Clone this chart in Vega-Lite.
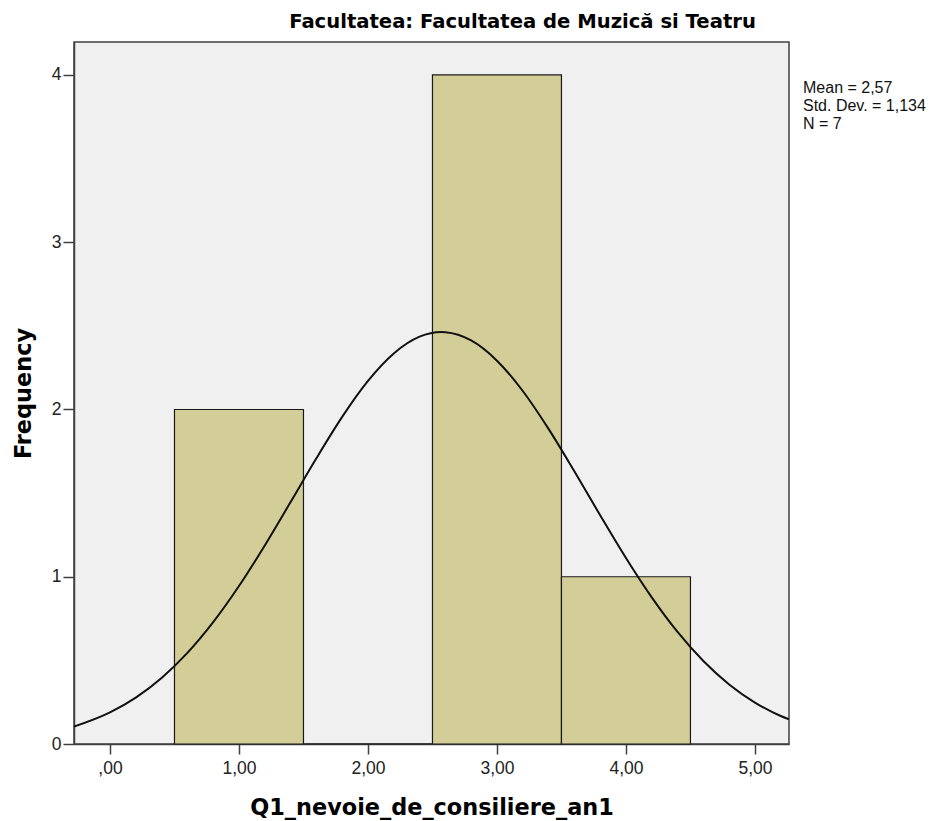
{
  "$schema": "https://vega.github.io/schema/vega-lite/v6.json",
  "autosize": {"type": "none"},
  "width": 715,
  "height": 702,
  "padding": {"left": 74, "top": 42, "right": 157, "bottom": 77},
  "background": "white",
  "config": {
    "font": "Liberation Sans",
    "view": {"fill": "#f0f0f0", "stroke": "#404040", "strokeWidth": 1.5}
  },
  "title": {
    "text": "Facultatea: Facultatea de Muzică si Teatru",
    "frame": "group",
    "anchor": "middle",
    "dx": 91,
    "offset": 9,
    "fontSize": 19.6,
    "fontWeight": "bold",
    "color": "black",
    "font": "DejaVu Sans"
  },
  "layer": [
    {
      "data": {"values": [
        {"bin_start": 0.5, "bin_end": 1.5, "count": 2},
        {"bin_start": 1.5, "bin_end": 2.5, "count": 0},
        {"bin_start": 2.5, "bin_end": 3.5, "count": 4},
        {"bin_start": 3.5, "bin_end": 4.5, "count": 1}
      ]},
      "mark": {"type": "rect", "fill": "#d3ce97", "stroke": "#1a1a1a", "strokeWidth": 1.2},
      "encoding": {
        "x": {
          "field": "bin_start", "type": "quantitative",
          "scale": {"domain": [-0.279, 5.264], "nice": false, "zero": false},
          "axis": {
            "title": "Q1_nevoie_de_consiliere_an1",
            "titleFontSize": 22.4, "titleFontWeight": "bold", "titleColor": "black",
            "titlePadding": 20, "titleFont": "DejaVu Sans",
            "values": [0, 1, 2, 3, 4, 5],
            "labelExpr": "datum.value == 0 ? ',00' : replace(format(datum.value, '.2f'), '.', ',')",
            "labelFontSize": 17.5, "labelColor": "#222", "labelPadding": 5,
            "tickSize": 10, "tickColor": "#404040", "tickWidth": 1.5,
            "domainColor": "#404040", "domainWidth": 1.5, "grid": false
          }
        },
        "x2": {"field": "bin_end"},
        "y": {
          "field": "count", "type": "quantitative",
          "scale": {"domain": [0, 4.197], "nice": false},
          "axis": {
            "title": "Frequency",
            "titleFontSize": 22.4, "titleFontWeight": "bold", "titleColor": "black",
            "titlePadding": 16, "titleFont": "DejaVu Sans",
            "values": [0, 1, 2, 3, 4],
            "format": "d",
            "labelFontSize": 17.5, "labelColor": "#222", "labelPadding": 2,
            "tickSize": 11, "tickColor": "#404040", "tickWidth": 1.5,
            "domainColor": "#404040", "domainWidth": 1.5, "grid": false
          }
        },
        "y2": {"datum": 0}
      }
    },
    {
      "data": {"values": [
        {"x": -0.279, "f": 0.1040},
        {"x": 0.0, "f": 0.1888},
        {"x": 0.2, "f": 0.2773},
        {"x": 0.4, "f": 0.3946},
        {"x": 0.6, "f": 0.5446},
        {"x": 0.8, "f": 0.7284},
        {"x": 1.0, "f": 0.9444},
        {"x": 1.2, "f": 1.1870},
        {"x": 1.4, "f": 1.4463},
        {"x": 1.6, "f": 1.7082},
        {"x": 1.8, "f": 1.9556},
        {"x": 2.0, "f": 2.1704},
        {"x": 2.2, "f": 2.3349},
        {"x": 2.4, "f": 2.4351},
        {"x": 2.57, "f": 2.4626},
        {"x": 2.6, "f": 2.4617},
        {"x": 2.8, "f": 2.4125},
        {"x": 3.0, "f": 2.2918},
        {"x": 3.2, "f": 2.1105},
        {"x": 3.4, "f": 1.8839},
        {"x": 3.6, "f": 1.6302},
        {"x": 3.8, "f": 1.3674},
        {"x": 4.0, "f": 1.1119},
        {"x": 4.2, "f": 0.8766},
        {"x": 4.4, "f": 0.6698},
        {"x": 4.6, "f": 0.4961},
        {"x": 4.8, "f": 0.3561},
        {"x": 5.0, "f": 0.2479},
        {"x": 5.2, "f": 0.1672},
        {"x": 5.264, "f": 0.1475}
      ]},
      "mark": {"type": "line", "color": "#111", "strokeWidth": 2, "interpolate": "monotone", "clip": true},
      "encoding": {
        "x": {"field": "x", "type": "quantitative"},
        "y": {"field": "f", "type": "quantitative"}
      }
    },
    {
      "data": {"values": [
        {"label": "Mean = 2,57\nStd. Dev. = 1,134\nN = 7", "pos": 3.892}
      ]},
      "mark": {"type": "text", "align": "left", "baseline": "alphabetic", "lineBreak": "\n", "lineHeight": 18, "fontSize": 16, "color": "#111", "dx": 14, "clip": false, "font": "Liberation Sans"},
      "encoding": {
        "x": {"datum": 5.264, "type": "quantitative"},
        "y": {"field": "pos", "type": "quantitative"},
        "text": {"field": "label"}
      }
    }
  ]
}
